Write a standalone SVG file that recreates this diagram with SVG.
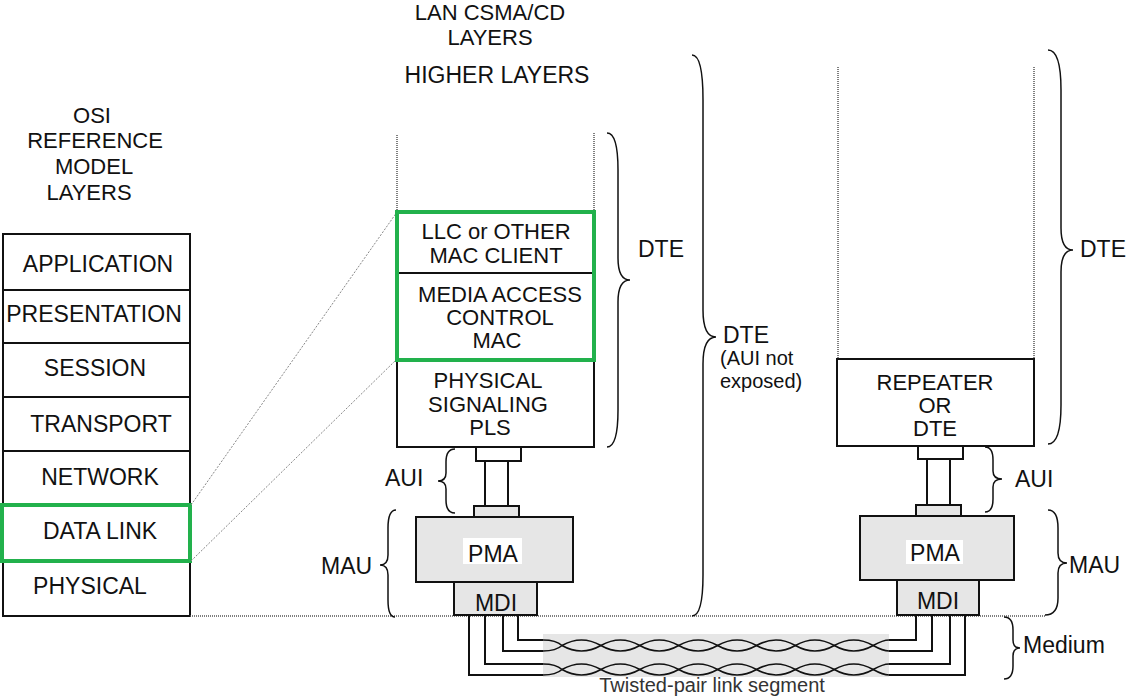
<svg xmlns="http://www.w3.org/2000/svg" width="1129" height="700" viewBox="0 0 1129 700">
<style>
text{font-family:"Liberation Sans",Arial,sans-serif;font-size:23px;fill:#111;text-anchor:middle}
.m{font-size:22px}
.s{font-size:20px;text-anchor:start}
.l{text-anchor:start}
.box{fill:#fff;stroke:#111;stroke-width:2}
.gray{fill:#e6e6e6;stroke:#111;stroke-width:2}
.green{fill:none;stroke:#22b14c;stroke-width:4}
.dot{fill:none;stroke:#555;stroke-width:1.5;stroke-dasharray:1 1}
.dash{fill:none;stroke:#888;stroke-width:1;stroke-dasharray:2 1.5}
.br{fill:none;stroke:#111;stroke-width:1.5}
.w{fill:none;stroke:#111;stroke-width:2}
.tw{fill:none;stroke:#111;stroke-width:1.6}
</style>

<g id="titles">
<text class="m" x="490" y="20">LAN CSMA/CD</text>
<text class="m" x="490" y="45">LAYERS</text>
<text x="497" y="83">HIGHER LAYERS</text>
<text class="m" x="92" y="123">OSI</text>
<text class="m" x="95" y="148">REFERENCE</text>
<text class="m" x="94" y="174">MODEL</text>
<text class="m" x="89" y="200">LAYERS</text>
</g>

<g id="osi-stack">
<rect class="box" x="3" y="234" width="187" height="382"/>
<path class="w" d="M3,290H190M3,343H190M3,397H190M3,451H190M3,505H190M3,561H190"/>
<text x="98" y="272">APPLICATION</text>
<text x="94" y="322">PRESENTATION</text>
<text x="95" y="376">SESSION</text>
<text x="101" y="432">TRANSPORT</text>
<text x="100" y="485">NETWORK</text>
<text x="100" y="539">DATA LINK</text>
<text x="90" y="594">PHYSICAL</text>
</g>
<g id="osi-datalink-highlight">
<rect class="green" x="2" y="505" width="188" height="56"/>
</g>

<g id="connectors">
<path class="dash" d="M191,505L397,212M191,561L397,359"/>
<path class="dot" d="M397,135V212M594,133V212M838,67V358M1034,67V358"/>
<path class="dot" d="M190,616H1045"/>
<path class="w" d="M485,461V506M508,461V506"/>
<path class="w" d="M927,459V505M950,459V505"/>
</g>

<g id="lan-stack">
<rect class="box" x="397" y="212" width="197" height="235"/>
<path class="w" d="M397,273H594M397,359H594"/>
<text class="m" x="496" y="239">LLC or OTHER</text>
<text class="m" x="496" y="263">MAC CLIENT</text>
<text class="m" x="500" y="302">MEDIA ACCESS</text>
<text class="m" x="500" y="325">CONTROL</text>
<text class="m" x="497" y="348">MAC</text>
<text class="m" x="488" y="388">PHYSICAL</text>
<text class="m" x="488" y="412">SIGNALING</text>
<text class="m" x="490" y="435">PLS</text>
<rect class="green" x="397" y="212" width="197" height="148"/>
</g>

<g id="left-mau">
<rect class="box" x="476" y="447" width="45" height="14"/>
<rect class="gray" x="474" y="506" width="45" height="11"/>
<rect class="gray" x="416" y="517" width="157" height="65"/>
<rect x="463" y="538" width="59" height="26" fill="#fff"/>
<text x="493" y="562">PMA</text>
<rect class="gray" x="454" y="582" width="83" height="33"/>
<text x="496" y="611">MDI</text>
</g>

<g id="repeater">
<rect class="box" x="837" y="359" width="197" height="87"/>
<text class="m" x="935" y="390">REPEATER</text>
<text class="m" x="935" y="413">OR</text>
<text class="m" x="935" y="436">DTE</text>
</g>

<g id="right-mau">
<rect class="box" x="918" y="446" width="45" height="13"/>
<rect class="gray" x="916" y="505" width="45" height="11"/>
<rect class="gray" x="860" y="516" width="154" height="64"/>
<rect x="906" y="540" width="57" height="24" fill="#fff"/>
<text x="935" y="561">PMA</text>
<rect class="gray" x="897" y="580" width="82" height="35"/>
<text x="938" y="609">MDI</text>
</g>

<g id="twisted-pair">
<rect x="543" y="634" width="346" height="43" fill="#e6e6e6"/>
<path class="w" d="M518,615V640H543M503,615V651H543M485,615V664H543M469,615V675H543"/>
<path class="w" d="M916,615V640H889M932,615V651H889M950,615V664H889M965,615V675H889"/>
<path class="tw" d="M543,640Q556,640 562,645.5M562,645.5Q581.45,656.5 600.9,645.5T639.8,645.5T678.7,645.5T717.6,645.5T756.5,645.5T795.4,645.5T834.3,645.5T873.2,645.5Q883,651 889,651"/>
<path class="tw" d="M543,651Q556,651 562,645.5M562,645.5Q581.45,634.5 600.9,645.5T639.8,645.5T678.7,645.5T717.6,645.5T756.5,645.5T795.4,645.5T834.3,645.5T873.2,645.5Q883,640 889,640"/>
<path class="tw" d="M543,664Q556,664 562,669.5M562,669.5Q581.45,680.5 600.9,669.5T639.8,669.5T678.7,669.5T717.6,669.5T756.5,669.5T795.4,669.5T834.3,669.5T873.2,669.5Q883,675 889,675"/>
<path class="tw" d="M543,675Q556,675 562,669.5M562,669.5Q581.45,658.5 600.9,669.5T639.8,669.5T678.7,669.5T717.6,669.5T756.5,669.5T795.4,669.5T834.3,669.5T873.2,669.5Q883,664 889,664"/>
<text x="712" y="692" style="font-size:20px;fill:#333">Twisted-pair link segment</text>
</g>

<g id="braces">
<path class="br" d="M607,133Q618,133 618,170L618,258Q618,280 630,280Q618,280 618,302L618,410Q618,447 607,447"/>
<path class="br" d="M692,55Q703,55 703,100L703,310Q703,337 716,337Q703,337 703,364L703,575Q703,616 692,616"/>
<path class="br" d="M1048,50Q1061,50 1061,90L1061,228Q1061,250 1073,250Q1061,250 1061,272L1061,405Q1061,444 1048,444"/>
<path class="br" d="M455,449Q446,449 446,462L446,473Q446,481 438,481Q446,481 446,489L446,500Q446,513 455,513"/>
<path class="br" d="M396,510Q388,510 388,528L388,555Q388,565 380,565Q388,565 388,575L388,600Q388,617 395,617"/>
<path class="br" d="M985,447Q993,447 993,460L993,471Q993,479 1002,479Q993,479 993,487L993,499Q993,512 985,512"/>
<path class="br" d="M1048,510Q1058,510 1058,528L1058,553Q1058,563 1067,563Q1058,563 1058,573L1058,598Q1058,615 1045,615"/>
<path class="br" d="M1004,617Q1013,617 1013,630L1013,640Q1013,648 1020,648Q1013,648 1013,656L1013,666Q1013,679 1004,679"/>
</g>

<g id="brace-labels">
<text class="l" x="638" y="257">DTE</text>
<text class="l" x="723" y="343">DTE</text>
<text class="s" x="720" y="365">(AUI not</text>
<text class="s" x="720" y="388">exposed)</text>
<text class="l" x="1080" y="257">DTE</text>
<text class="l" x="385" y="486">AUI</text>
<text class="l" x="321" y="574">MAU</text>
<text class="l" x="1015" y="487">AUI</text>
<text class="l" x="1069" y="573">MAU</text>
<text class="l" x="1023" y="653">Medium</text>
</g>
</svg>
